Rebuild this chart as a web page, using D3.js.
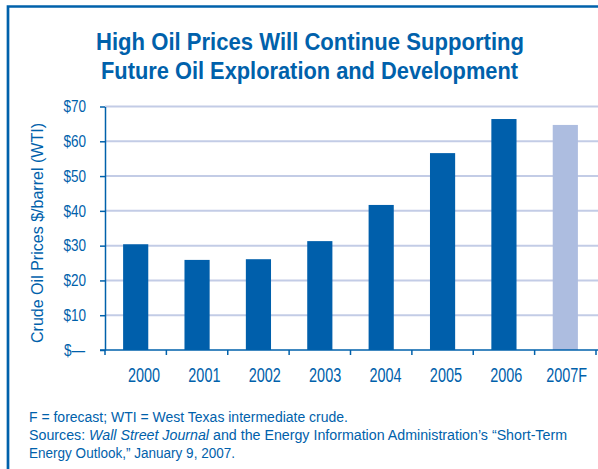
<!DOCTYPE html>
<html>
<head>
<meta charset="utf-8">
<script src="https://cdn.jsdelivr.net/npm/d3@7/dist/d3.min.js"></script>
<style>
  body { margin: 0; background: #fff; }
  text { font-family: "Liberation Sans", Arial, sans-serif; fill: #0061ab; }
</style>
</head>
<body>
<script>
// data
var years = ["2000", "2001", "2002", "2003", "2004", "2005", "2006", "2007F"];
var prices = [30.4, 25.9, 26.1, 31.3, 41.7, 56.6, 66.4, 64.7];
var isForecast = [false, false, false, false, false, false, false, true];
var yTicks = [0, 10, 20, 30, 40, 50, 60, 70];
var titleLines = ["High Oil Prices Will Continue Supporting", "Future Oil Exploration and Development"];
var yLabel = "Crude Oil Prices $/barrel (WTI)";

var data = years.map(function (d, i) { return {year: d, price: prices[i], fc: isForecast[i]}; });

var W = 598, H = 469;
var blue = "#0061ab";

// narrow a text by setting textLength from its natural width
function condense(sel, f) {
    sel.each(function () {
        var w = this.getComputedTextLength();
        d3.select(this).attr("textLength", w * f).attr("lengthAdjust", "spacingAndGlyphs");
    });
}

var svg = d3.select("body").append("svg")
    .attr("width", W)
    .attr("height", H);

// frame
svg.append("path")
    .attr("d", "M8,469V6.5H598")
    .attr("fill", "none")
    .attr("stroke", blue)
    .attr("stroke-width", 2.7);

// title
svg.selectAll(".title").data(titleLines)
    .enter().append("text")
    .attr("class", "title")
    .attr("x", function (d, i) { return i == 0 ? 310 : 309.5; })
    .attr("y", function (d, i) { return 50 + i * 28.5; })
    .attr("text-anchor", "middle")
    .attr("textLength", function (d, i) { return i == 0 ? 428 : 417; })
    .attr("lengthAdjust", "spacingAndGlyphs")
    .style("font-size", "24px")
    .style("font-weight", "bold")
    .text(function (d) { return d; });

var x = d3.scaleBand().domain(years).range([105, 596]).paddingInner(0.59).paddingOuter(0.295);
var y = d3.scaleLinear().domain([0, 70]).range([350, 106.5]);
var xLab = d3.scalePoint().domain(years).range([144, 566.7]);

// gridlines
svg.append("g").selectAll("line").data(yTicks.slice(1))
    .enter().append("line")
    .attr("x1", 105).attr("x2", W)
    .attr("y1", d => y(d)).attr("y2", d => y(d))
    .attr("stroke", "#c3cce6")
    .attr("stroke-width", 2);

// bars
svg.append("g").selectAll("rect").data(data)
    .enter().append("rect")
    .attr("x", d => x(d.year))
    .attr("width", x.bandwidth())
    .attr("y", d => y(d.price))
    .attr("height", d => y(0) - y(d.price))
    .attr("fill", d => d.fc ? "#adbde0" : "#005fab");

// y axis
var yAxis = svg.append("g")
    .attr("transform", "translate(105,0)")
    .call(d3.axisLeft(y).tickValues(yTicks).tickSize(5).tickSizeOuter(0).tickPadding(14)
        .tickFormat(d => d == 0 ? "$\u2014" : "$" + d));
yAxis.select(".domain").attr("stroke", blue).attr("stroke-width", 1.5);
yAxis.selectAll(".tick line").attr("stroke", blue).attr("stroke-width", 1.5);
yAxis.selectAll(".tick text")
    .attr("fill", blue)
    .style("font-family", "Liberation Sans, Arial, sans-serif")
    .style("font-size", "16.5px")
    .call(condense, 0.82);
yAxis.selectAll(".tick text").filter(d => d == 0).attr("x", -20);

// x axis line and ticks at band edges
var edges = years.map(d => x(d) - (x.step() - x.bandwidth()) / 2);
edges.push(edges[edges.length - 1] + x.step());
svg.append("line")
    .attr("x1", 100).attr("x2", W)
    .attr("y1", y(0)).attr("y2", y(0))
    .attr("stroke", blue).attr("stroke-width", 1.5);
svg.append("g").selectAll("line").data(edges)
    .enter().append("line")
    .attr("x1", d => d).attr("x2", d => d)
    .attr("y1", y(0)).attr("y2", y(0) + 5)
    .attr("stroke", blue).attr("stroke-width", 1.5);

svg.append("g").selectAll("text").data(years)
    .enter().append("text")
    .attr("x", d => xLab(d))
    .attr("y", 382)
    .attr("text-anchor", "middle")
    .style("font-size", "19.5px")
    .text(d => d)
    .call(condense, 0.74);

// y axis title
svg.append("text")
    .attr("transform", "translate(43,233) rotate(-90)")
    .attr("text-anchor", "middle")
    .attr("textLength", 220)
    .attr("lengthAdjust", "spacingAndGlyphs")
    .style("font-size", "17px")
    .text(yLabel);

// notes
var notes = svg.append("g").style("font-size", "14px");
notes.append("text").attr("x", 29).attr("y", 421.5)
    .attr("textLength", 319).attr("lengthAdjust", "spacingAndGlyphs")
    .text("F = forecast; WTI = West Texas intermediate crude.");
var n2 = notes.append("text").attr("x", 29).attr("y", 439.5)
    .attr("textLength", 538).attr("lengthAdjust", "spacingAndGlyphs");
n2.append("tspan").text("Sources: ");
n2.append("tspan").style("font-style", "italic").text("Wall Street Journal");
n2.append("tspan").text(" and the Energy Information Administration\u2019s \u201cShort-Term");
notes.append("text").attr("x", 29).attr("y", 457.5)
    .attr("textLength", 206).attr("lengthAdjust", "spacingAndGlyphs")
    .text("Energy Outlook,\u201d January 9, 2007.");
</script>
</body>
</html>
